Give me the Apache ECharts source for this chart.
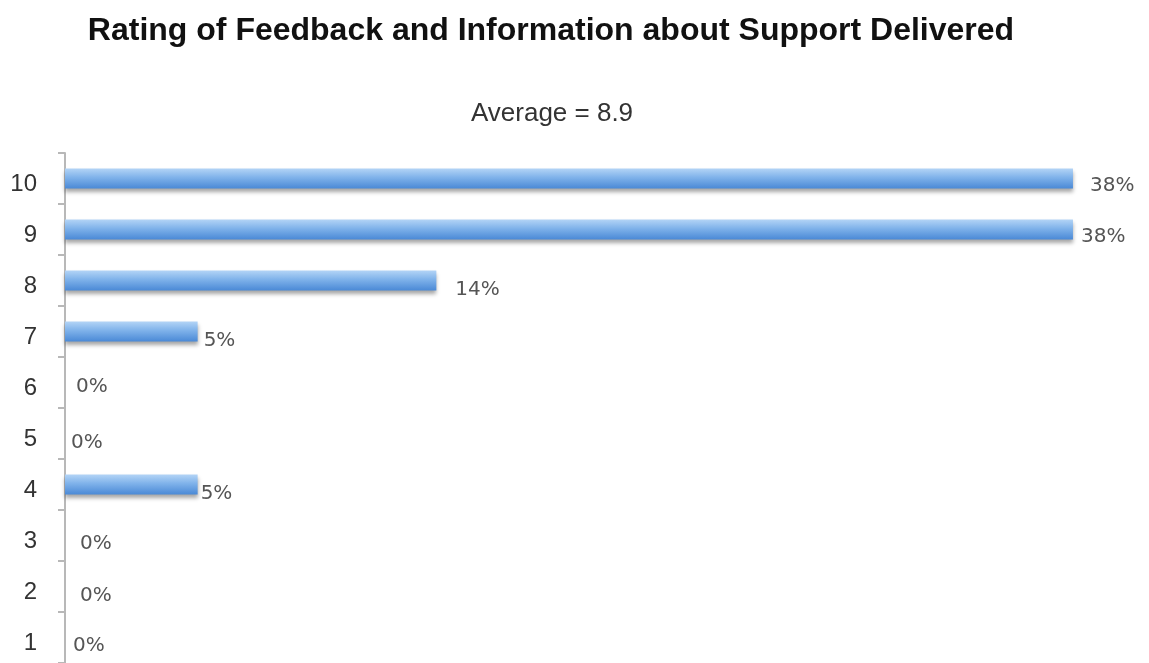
<!DOCTYPE html>
<html>
<head>
<meta charset="utf-8">
<script src="https://cdn.jsdelivr.net/npm/echarts@6/dist/echarts.min.js"></script>
<style>
  html, body { margin: 0; padding: 0; background: #fff; }
  #chart { width: 1149px; height: 663px; }
</style>
</head>
<body>
<div id="chart"></div>
<script>
// Rating scale, bottom to top
const ratings = ['1', '2', '3', '4', '5', '6', '7', '8', '9', '10'];
// Share of responses per rating, in percent
const shares = [0, 0, 0, 5, 0, 0, 5, 14, 38, 38];
const titleText = 'Rating of Feedback and Information about Support Delivered';
const subtitleText = 'Average = 8.9';

// Small hand-placed label nudges [dx, dy] per rating
const labelNudge = [
  [2, 8], [9, 9], [9, 8], [-3, 9], [0, 9],
  [5, 4], [0, 9], [13, 9], [2, 7], [11, 7]
];

const chart = echarts.init(document.getElementById('chart'), null, { renderer: 'canvas' });

const barFill = new echarts.graphic.LinearGradient(0, 0, 0, 1, [
  { offset: 0, color: '#b3d4f6' },
  { offset: 0.45, color: '#7fb2ea' },
  { offset: 1, color: '#4a89d6' }
]);

chart.setOption({
  animation: false,
  backgroundColor: '#ffffff',
  title: [
    {
      text: titleText,
      left: 546, top: 10, textAlign: 'center',
      textStyle: { fontFamily: 'Liberation Sans, Arial, sans-serif', fontSize: 32, fontWeight: 'bold', color: '#111' }
    },
    {
      text: subtitleText,
      left: 547, top: 96, textAlign: 'center',
      textStyle: { fontFamily: 'Liberation Sans, Arial, sans-serif', fontSize: 26, fontWeight: 'normal', color: '#333' }
    }
  ],
  grid: { left: 65, right: 23, top: 153, bottom: -4, containLabel: false },
  xAxis: {
    type: 'value', min: 0, max: 40, show: false
  },
  yAxis: {
    type: 'category',
    data: ratings,
    axisLine: { show: true, lineStyle: { color: '#b8b8b8', width: 2 } },
    axisTick: { show: true, length: 7, lineStyle: { color: '#b8b8b8', width: 2 } },
    axisLabel: {
      margin: 28,
      formatter: v => '{v|' + v + '}',
      rich: {
        v: {
          padding: [12, 0, 0, 0],
          fontFamily: 'Liberation Sans, Arial, sans-serif',
          fontSize: 24, color: '#333'
        }
      }
    },
    splitLine: { show: false }
  },
  series: [{
    type: 'bar',
    data: shares.map((v, i) => ({
      value: v,
      label: { offset: labelNudge[i] }
    })),
    barWidth: 20,
    itemStyle: {
      color: barFill,
      shadowColor: 'rgba(0,0,0,0.35)',
      shadowBlur: 4,
      shadowOffsetY: 3
    },
    label: {
      show: true,
      position: 'right',
      distance: 6,
      formatter: p => p.value + '%',
      fontFamily: 'DejaVu Sans, Verdana, sans-serif',
      fontSize: 20,
      color: '#555'
    }
  }]
});
</script>
</body>
</html>
